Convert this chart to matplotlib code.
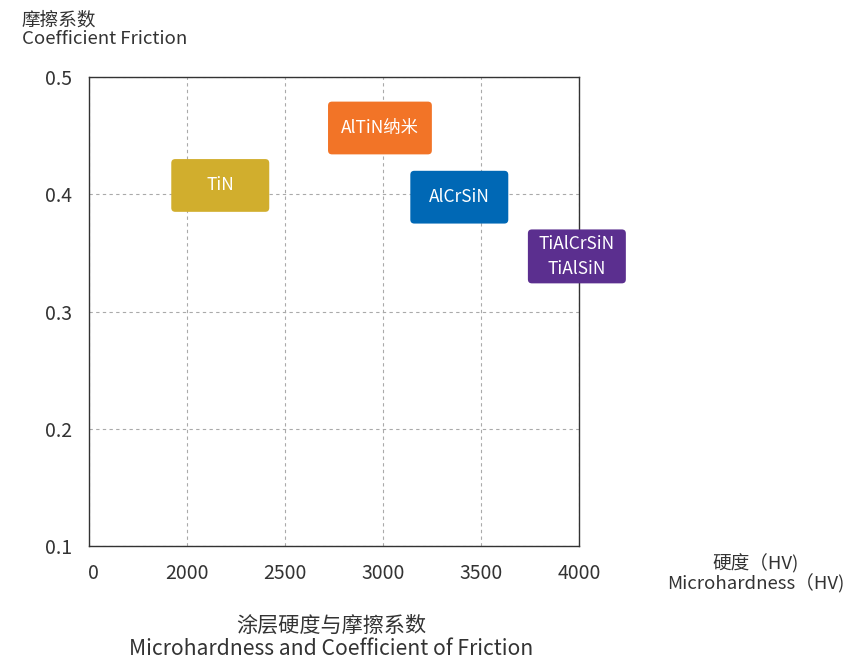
import matplotlib
matplotlib.use('Agg')
import matplotlib.pyplot as plt
import matplotlib.transforms as mtransforms
from matplotlib.patches import FancyBboxPatch

plt.rcParams['font.family'] = ['Noto Sans CJK SC', 'DejaVu Sans']

# coatings: hardness range (HV) and friction range
coatings = ['TiN', 'AlTiN纳米', 'AlCrSiN', 'TiAlCrSiN\nTiAlSiN']
hv_low = [1920, 2720, 3140, 3740]
hv_high = [2420, 3250, 3640, 4240]
mu_low = [0.385, 0.434, 0.375, 0.324]
mu_high = [0.430, 0.479, 0.420, 0.370]
box_colors = ['#D1AE2D', '#F27427', '#0068B5', '#5B2F8F']

x_ticks = [1500, 2000, 2500, 3000, 3500, 4000]
x_tick_labels = ['0', '2000', '2500', '3000', '3500', '4000']
y_ticks = [0.1, 0.2, 0.3, 0.4, 0.5]
y_tick_labels = ['0.1', '0.2', '0.3', '0.4', '0.5']

text_col = '#333333'

fig = plt.figure(figsize=(8.45, 6.62), dpi=100)
ax = fig.add_axes([0.1053, 0.1752, 0.5797, 0.7085])

ax.set_xlim(1500, 4000)
ax.set_ylim(0.1, 0.5)
ax.set_xticks(x_ticks)
ax.set_xticklabels(x_tick_labels)
ax.set_yticks(y_ticks)
ax.set_yticklabels(y_tick_labels)
ax.tick_params(length=0, labelsize=14, colors=text_col)
ax.tick_params(axis='x', pad=12)
ax.tick_params(axis='y', pad=12)
# the "0" label sits a little right of the axis corner
lbl0 = ax.get_xticklabels()[0]
lbl0.set_transform(lbl0.get_transform() +
                   mtransforms.ScaledTranslation(4 / 100, 0, fig.dpi_scale_trans))
ax.grid(True, linestyle=(0, (3, 3)), color='#aaaaaa', linewidth=0.8)
ax.set_axisbelow(True)
for s in ax.spines.values():
    s.set_color('#333333')
    s.set_linewidth(1.0)

# rounded boxes: convert pixel rounding to data units
px_x = 2500 / (0.5797 * 845)
px_y = 0.4 / (0.7085 * 662)
aspect = px_y / px_x
for name, x0, x1, y0, y1, c in zip(coatings, hv_low, hv_high, mu_low, mu_high, box_colors):
    box = FancyBboxPatch((x0, y0), x1 - x0, y1 - y0,
                         boxstyle='round,pad=0,rounding_size=%f' % (4 * px_x),
                         mutation_aspect=aspect, facecolor=c, edgecolor='none',
                         clip_on=False, zorder=3)
    ax.add_patch(box)
    ax.text((x0 + x1) / 2, (y0 + y1) / 2, name, color='white', fontsize=12.5,
            ha='center', va='center', linespacing=1.5, zorder=4, clip_on=False)

fig.text(0.026, 0.955, '摩擦系数\nCoefficient Friction', ha='left', va='center',
         fontsize=13.4, color=text_col, linespacing=1.1)
fig.text(0.894, 0.133, '硬度（HV)\nMicrohardness（HV)', ha='center', va='center',
         fontsize=13.4, color=text_col, linespacing=1.05)
fig.text(0.392, 0.037, '涂层硬度与摩擦系数\nMicrohardness and Coefficient of Friction',
         ha='center', va='center', fontsize=15.2, color=text_col, linespacing=1.05)

fig.savefig('out.png', dpi=100)
